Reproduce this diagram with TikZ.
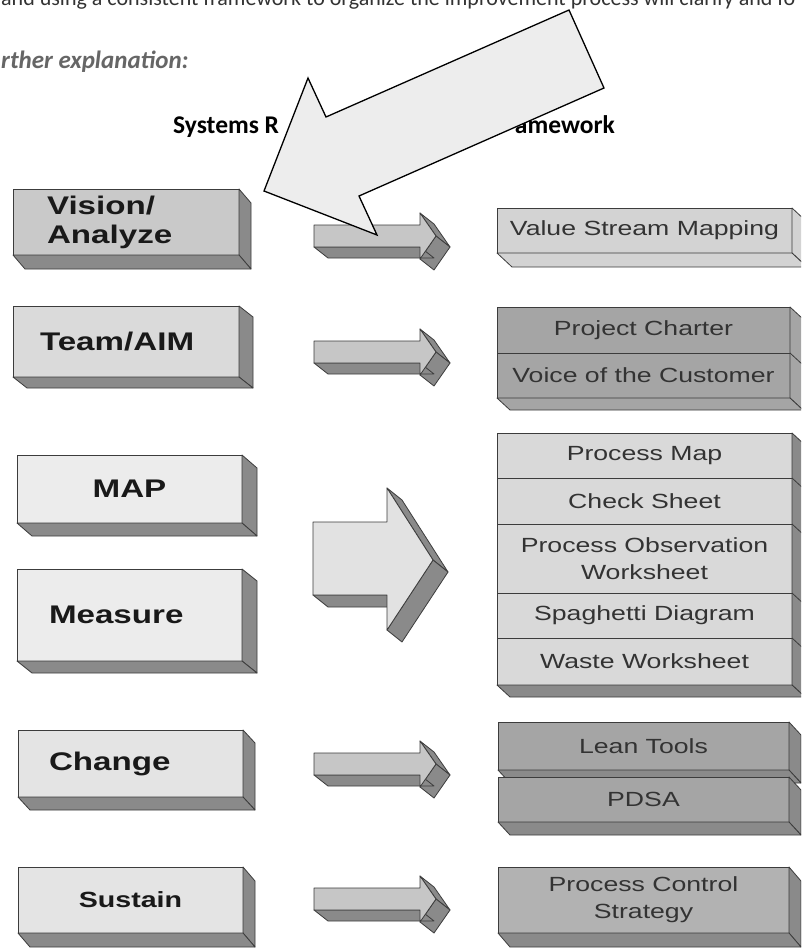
\documentclass[tikz,border=0pt]{standalone}
\usepackage{fontspec}
\usepackage{xcolor}
\usepackage{tikz}
\usetikzlibrary{positioning}
\newfontfamily\docfont{Carlito}
\newfontfamily\boxfont{Liberation Sans}[FakeStretch=1.3]
\definecolor{edge}{HTML}{3C3C3C}
\definecolor{sidegray}{HTML}{8A8A8A}
\definecolor{visiongray}{HTML}{C9C9C9}
\definecolor{teamgray}{HTML}{DADADA}
\definecolor{paleface}{HTML}{ECECEC}
\definecolor{changeface}{HTML}{E4E4E4}
\definecolor{vsmgray}{HTML}{D3D3D3}
\definecolor{darkface}{HTML}{A5A5A5}
\definecolor{pcsface}{HTML}{B2B2B2}
\definecolor{stackgray}{HTML}{D9D9D9}
\definecolor{arrowface}{HTML}{C6C6C6}
\definecolor{bigface}{HTML}{E2E2E2}
\definecolor{calloutfill}{HTML}{EDEDED}
\newcommand{\extrude}[4]{
\filldraw[side, fill=#4] (#1.north east) -- ++(#3) -- ([shift={(#3)}]#2.south east) -- (#2.south east) -- cycle;
\filldraw[side, fill=#4] (#2.south west) -- ++(#3) -- ([shift={(#3)}]#2.south east) -- (#2.south east) -- cycle;
}
\newcommand{\flatarrow}[1]{
\begin{scope}[shift={(0,#1)}]
\filldraw[side, fill=sidegray] (420,-12) -- (436,11) -- (450,22) -- (434,-1) -- cycle;
\filldraw[side, fill=sidegray] (436,11) -- (420,34) -- (434,45) -- (450,22) -- cycle;
\filldraw[side, fill=sidegray] (314,22) -- (420,22) -- (434,33) -- (328,33) -- cycle;
\filldraw[side, fill=arrowface] (314,0) -- (420,0) -- (420,-12) -- (436,11) -- (420,34) -- (420,22) -- (314,22) -- cycle;
\end{scope}
}

\begin{document}
\begin{tikzpicture}[x=1pt, y=-1pt,
                          side/.style={draw=edge, line width=0.8pt, line join=round},
                          lbox/.style={draw=edge, line width=0.9pt, outer sep=0pt, inner sep=0pt,
                                       anchor=north west, minimum width=225pt,
                                       font=\boxfont\bfseries\fontsize{25.5}{29}\selectfont, text=black!90},
                          rbox/.style={draw=edge, line width=0.8pt, outer sep=0pt, inner sep=0pt,
                                       anchor=north west, minimum width=295pt, align=center,
                                       font=\boxfont\fontsize{20.5}{27}\selectfont, text=black!80},
                          callout/.style={fill=calloutfill, draw=black, line width=1.3pt, line join=miter},
                         ]

\fill[white] (0,0) rectangle (801,950);
\clip (0,0) rectangle (801,950);

\node[anchor=base west, inner sep=0pt, font=\docfont\fontsize{22}{26}\selectfont, text=black!80] (intro) at (1,6)
  {and using a consistent framework to organize the improvement process will clarify and fo};
\node[anchor=base west, inner sep=0pt, font=\docfont\bfseries\itshape\fontsize{25}{29}\selectfont, text=black!60] (further) at (1,68)
  {rther explanation:};
\node[anchor=base west, inner sep=0pt, font=\docfont\bfseries\fontsize{25.5}{29}\selectfont] (titleL) at (173,133) {Systems R};
\node[anchor=base east, inner sep=0pt, font=\docfont\bfseries\fontsize{25.5}{29}\selectfont] (titleR) at (615,133) {amework};

% left column
\node[lbox, fill=visiongray, minimum width=226pt, minimum height=66pt, text width=158pt, inner xsep=34pt, align=left] (vision) at (13,189) {Vision/\\Analyze};
\extrude{vision}{vision}{12,14}{sidegray}
\node[lbox, fill=teamgray, minimum width=226pt, minimum height=71pt, text width=172pt, inner xsep=27pt, align=left] (team) at (13,306) {Team/AIM};
\extrude{team}{team}{14,11}{sidegray}
\node[lbox, fill=paleface, minimum height=68pt] (map) at (17,455) {MAP};
\extrude{map}{map}{15,13}{sidegray}
\node[lbox, fill=paleface, minimum height=92pt, text width=161pt, inner xsep=32pt, align=left] (measure) at (17,569) {Measure};
\extrude{measure}{measure}{15,12}{sidegray}
\node[lbox, fill=changeface, minimum height=67pt, text width=163pt, inner xsep=31pt, align=left] (change) at (18,730) {Change};
\extrude{change}{change}{12,13}{sidegray}
\node[lbox, fill=changeface, minimum height=66pt, font=\boxfont\bfseries\fontsize{22}{26}\selectfont] (sustain) at (18,867) {Sustain};
\extrude{sustain}{sustain}{12,14}{sidegray}

% right column
\node[rbox, fill=vsmgray, minimum height=45pt] (vsm) at (497,208) {Value Stream Mapping};
\extrude{vsm}{vsm}{15,14}{vsmgray}
\node[rbox, fill=darkface, minimum width=293pt, minimum height=46pt] (charter) at (497,307) {Project Charter};
\node[rbox, fill=darkface, minimum width=293pt, minimum height=45pt, below=0pt of charter] (voc) {Voice of the Customer};
\extrude{charter}{voc}{13,12}{darkface}
\draw[side] (charter.south east) -- ++(13,12);

\node[rbox, fill=stackgray, minimum height=45pt] (pm) at (497,433) {Process Map};
\node[rbox, fill=stackgray, minimum height=46pt, below=0pt of pm] (cs) {Check Sheet};
\node[rbox, fill=stackgray, minimum height=69pt, below=0pt of cs] (pow) {Process Observation\\Worksheet};
\node[rbox, fill=stackgray, minimum height=45pt, below=0pt of pow] (sd) {Spaghetti Diagram};
\node[rbox, fill=stackgray, minimum height=47pt, below=0pt of sd] (ww) {Waste Worksheet};
\extrude{pm}{ww}{13,12}{sidegray}
\foreach \n in {pm,cs,pow,sd}
  \draw[side] (\n.south east) -- ++(13,12);

\node[rbox, fill=darkface, minimum width=291pt, minimum height=48pt] (lean) at (498,722) {Lean Tools};
\extrude{lean}{lean}{12,13}{sidegray}
\node[rbox, fill=darkface, minimum width=291pt, minimum height=45pt] (pdsa) at (498,777) {PDSA};
\extrude{pdsa}{pdsa}{12,13}{sidegray}
\node[rbox, fill=pcsface, minimum width=291pt, minimum height=66pt] (pcs) at (498,867) {Process Control\\Strategy};
\extrude{pcs}{pcs}{12,14}{sidegray}

% block arrows
\flatarrow{225}
\flatarrow{341}
\flatarrow{753}
\flatarrow{888}

\filldraw[side, fill=sidegray] (387,488) -- (433,560) -- (448,572) -- (402,500) -- cycle;
\filldraw[side, fill=sidegray] (433,560) -- (387,630) -- (402,642) -- (448,572) -- cycle;
\filldraw[side, fill=sidegray] (313,595) -- (387,595) -- (402,607) -- (328,607) -- cycle;
\filldraw[side, fill=bigface] (313,522) -- (387,522) -- (387,488) -- (433,560) -- (387,630) -- (387,595) -- (313,595) -- cycle;

\filldraw[callout] (569,10) -- (604,88) -- (359,196) -- (377,235) -- (264,191) -- (308,78) -- (326,117) -- cycle;

\end{tikzpicture}
\end{document}
